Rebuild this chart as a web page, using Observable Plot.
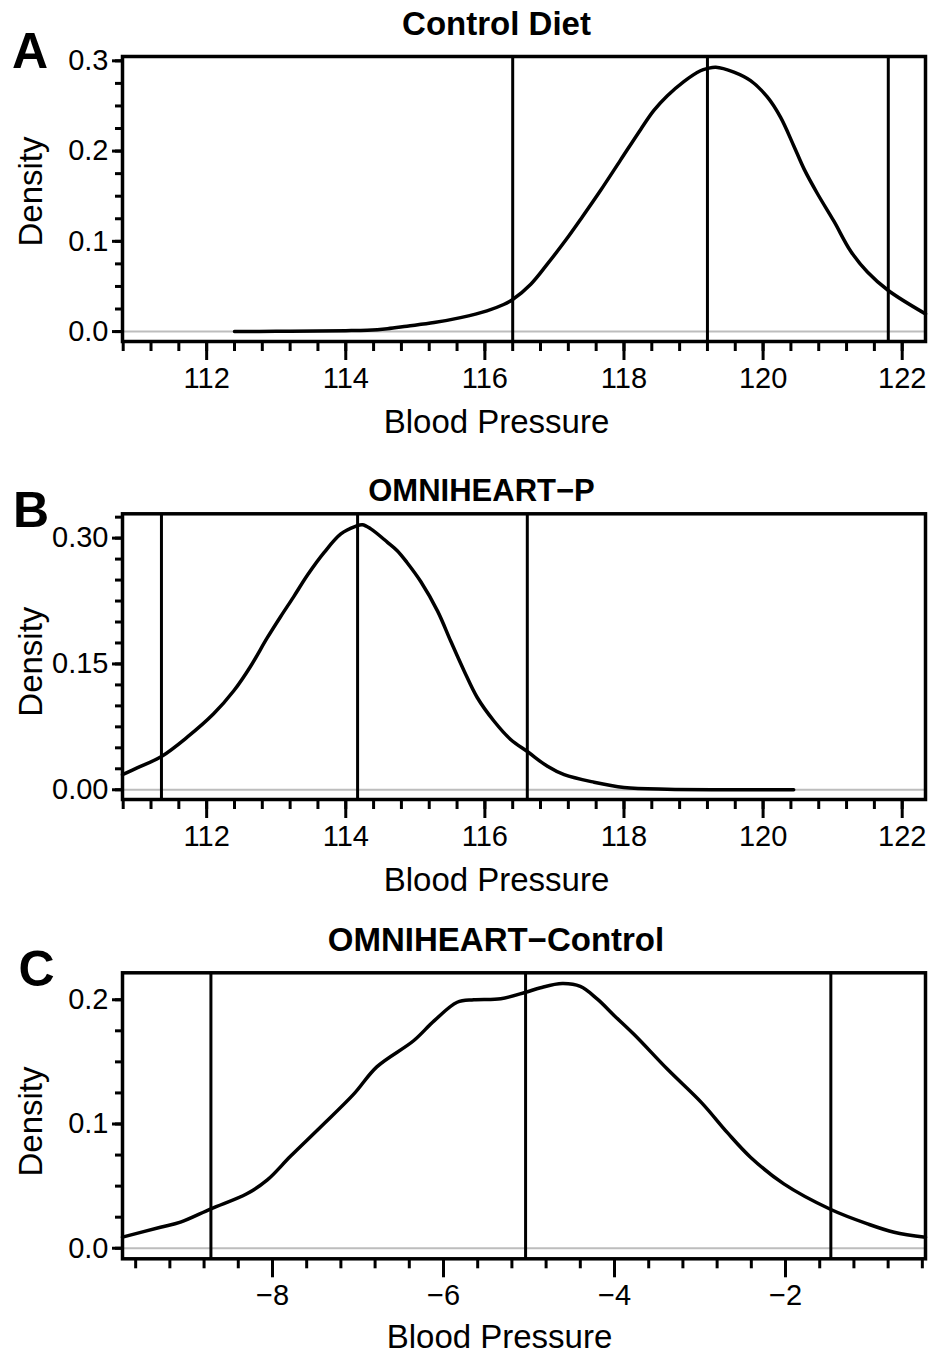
<!DOCTYPE html>
<html><head><meta charset="utf-8">
<script src="https://cdn.jsdelivr.net/npm/d3@7"></script>
<script src="https://cdn.jsdelivr.net/npm/@observablehq/plot@0.6"></script>
<style>body{margin:0;background:#fff} svg{display:block}</style>
</head><body><div id="chart"></div>
<script>
// ---------- Panel A: Control Diet ----------
const aX = [112.40,113.0,113.6,114.0,114.31,114.6,114.88,115.27,115.65,116.03,116.27,116.40,116.66,116.9,117.15,117.4,117.66,117.95,118.24,118.43,118.62,118.86,119.1,119.2,119.32,119.58,119.82,120.06,120.25,120.44,120.59,120.78,121.02,121.26,121.50,121.80,122.335];
const aY = [0.0,0.0003,0.0007,0.001,0.0015,0.0032,0.006,0.010,0.0155,0.023,0.030,0.0355,0.0525,0.075,0.100,0.127,0.156,0.19,0.224,0.245,0.261,0.277,0.289,0.2915,0.293,0.2875,0.278,0.260,0.2376,0.206,0.180,0.153,0.122,0.089,0.066,0.0455,0.0196];
const aLines = [116.4, 119.2, 121.8];

// ---------- Panel B: OMNIHEART-P ----------
const bX = [110.79,111.0,111.35,111.72,112.1,112.39,112.63,112.87,113.06,113.25,113.45,113.69,113.93,114.14,114.24,114.36,114.6,114.74,114.88,115.08,115.32,115.51,115.70,115.89,116.13,116.37,116.62,116.90,117.14,117.57,118.0,118.62,119.5,120.44];
const bY = [0.018,0.026,0.0397,0.0627,0.0906,0.118,0.147,0.181,0.206,0.230,0.256,0.283,0.305,0.314,0.316,0.311,0.295,0.285,0.271,0.248,0.213,0.177,0.142,0.110,0.082,0.060,0.045,0.028,0.018,0.009,0.0028,0.0006,0.0001,0.0];
const bLines = [111.35, 114.17, 116.61];

// ---------- Panel C: OMNIHEART-Control ----------
const cX = [-9.754,-9.31,-9.076,-8.72,-8.30,-8.06,-7.79,-7.44,-7.05,-6.78,-6.35,-6.11,-5.84,-5.645,-5.33,-5.04,-4.865,-4.61,-4.40,-4.20,-4.005,-3.77,-3.38,-2.98,-2.68,-2.41,-2.02,-1.47,-1.04,-0.73,-0.363];
const cY = [0.0089,0.0169,0.021,0.0317,0.0438,0.055,0.074,0.0974,0.124,0.146,0.167,0.183,0.198,0.200,0.2008,0.206,0.2097,0.213,0.2107,0.2005,0.1874,0.172,0.1440,0.117,0.093,0.0733,0.0518,0.0312,0.0196,0.0129,0.0089];
const cLines = [-8.72, -5.04, -1.47];

// ---------- ticks ----------
const abMajorX = [112, 114, 116, 118, 120, 122];
const abMinorX = [110.8,111.2,111.6,112.0,112.4,112.8,113.2,113.6,114.0,114.4,114.8,115.2,115.6,116.0,116.4,116.8,117.2,117.6,118.0,118.4,118.8,119.2,119.6,120.0,120.4,120.8,121.2,121.6,122.0];
const cMajorX = [-8, -6, -4, -2];
const cMinorX = [-9.6,-9.2,-8.8,-8.4,-8.0,-7.6,-7.2,-6.8,-6.4,-6.0,-5.6,-5.2,-4.8,-4.4,-4.0,-3.6,-3.2,-2.8,-2.4,-2.0,-1.6,-1.2,-0.8,-0.4];
const aMajorY = [0, 0.1, 0.2, 0.3];
const aMinorY = [0,0.025,0.05,0.075,0.1,0.125,0.15,0.175,0.2,0.225,0.25,0.275,0.3];
const bMajorY = [0, 0.15, 0.30];
const bMinorY = [0,0.025,0.05,0.075,0.1,0.125,0.15,0.175,0.2,0.225,0.25,0.275,0.3,0.325];
const cMajorY = [0, 0.1, 0.2];
const cMinorY = [0,0.025,0.05,0.075,0.1,0.125,0.15,0.175,0.2];

const titles = ["Control Diet", "OMNIHEART\u2212P", "OMNIHEART\u2212Control"];
const letters = ["A", "B", "C"];
const xLabel = "Blood Pressure";
const yLabel = "Density";

const FONT = "'Liberation Sans', Arial, Helvetica, sans-serif";

function panel(cfg) {
  const data = cfg.xs.map((x, i) => ({x, y: cfg.ys[i]}));
  return Plot.plot({
    width: 932,
    height: cfg.height,
    marginLeft: 122,
    marginRight: 7,
    marginTop: cfg.mt,
    marginBottom: cfg.mb,
    style: {fontFamily: FONT, fontSize: "29px", color: "black", background: "white", overflow: "visible"},
    x: {domain: cfg.xDomain, axis: null},
    y: {domain: cfg.yDomain, axis: null},
    marks: [
      Plot.ruleY([0], {stroke: "#bdbdbd", strokeWidth: 2}),
      Plot.ruleX(cfg.lines, {stroke: "black", strokeWidth: 3}),
      Plot.line(data, {x: "x", y: "y", curve: "catmull-rom", stroke: "black", strokeWidth: 3.5}),
      Plot.frame({stroke: "black", strokeWidth: 3.5}),
      Plot.axisX({ticks: cfg.minorX, tickSize: 10, strokeWidth: 3, tickFormat: () => "", label: null}),
      Plot.axisX({ticks: cfg.majorX, tickSize: 19, tickPadding: 7, strokeWidth: 3, tickFormat: d3.format("d"), fontSize: 29, label: null}),
      Plot.axisY({ticks: cfg.minorY, tickSize: 7, strokeWidth: 3, tickFormat: () => "", label: null}),
      Plot.axisY({ticks: cfg.majorY, tickSize: 10, tickPadding: 4, strokeWidth: 3, tickFormat: d3.format(cfg.yFmt), fontSize: 29, label: null}),
      Plot.text([cfg.title], {frameAnchor: "top", textAnchor: "middle", lineAnchor: "middle", dx: cfg.title_dx, dy: cfg.title_dy, fontSize: cfg.title_fs, fontWeight: "bold"}),
      Plot.text([cfg.letter], {frameAnchor: "top-left", textAnchor: "middle", lineAnchor: "middle", dx: cfg.let_dx, dy: cfg.let_dy, fontSize: 50, fontWeight: "bold"}),
      Plot.text([xLabel], {frameAnchor: "bottom", textAnchor: "middle", lineAnchor: "middle", dx: cfg.xl_dx, dy: cfg.xl_dy, fontSize: 33}),
      Plot.text([yLabel], {frameAnchor: "left", textAnchor: "middle", lineAnchor: "middle", rotate: -90, dx: -91, dy: cfg.yl_dy, fontSize: 33})
    ]
  });
}

const root = document.getElementById("chart");
root.appendChild(panel({
  xs: aX, ys: aY, lines: aLines, height: 455, mt: 56, mb: 114,
  xDomain: [110.79, 122.335], yDomain: [-0.011, 0.3048],
  majorX: abMajorX, minorX: abMinorX, majorY: aMajorY, minorY: aMinorY, yFmt: ".1f",
  title: titles[0], letter: letters[0], title_fs: 33,
  title_dx: -27.5, title_dy: -32, let_dx: -92.5, let_dy: -4.5, xl_dx: -27.5, xl_dy: 81, yl_dy: -7.5
}));
root.appendChild(panel({
  xs: bX, ys: bY, lines: bLines, height: 457, mt: 58.3, mb: 113,
  xDomain: [110.79, 122.335], yDomain: [-0.0116, 0.329],
  majorX: abMajorX, minorX: abMinorX, majorY: bMajorY, minorY: bMinorY, yFmt: ".2f",
  title: titles[1], letter: letters[1], title_fs: 31,
  title_dx: -42.5, title_dy: -22.3, let_dx: -91.5, let_dy: -3.3, xl_dx: -27.5, xl_dy: 81, yl_dy: 5
}));
root.appendChild(panel({
  xs: cX, ys: cY, lines: cLines, height: 445, mt: 60.3, mb: 98.7,
  xDomain: [-9.754, -0.363], yDomain: [-0.0085, 0.2217],
  majorX: cMajorX, minorX: cMinorX, majorY: cMajorY, minorY: cMinorY, yFmt: ".1f",
  title: titles[2], letter: letters[2], title_fs: 33,
  title_dx: -28, title_dy: -32.3, let_dx: -86, let_dy: -2.8, xl_dx: -24.5, xl_dy: 78.7, yl_dy: 5.7
}));
</script></body></html>
